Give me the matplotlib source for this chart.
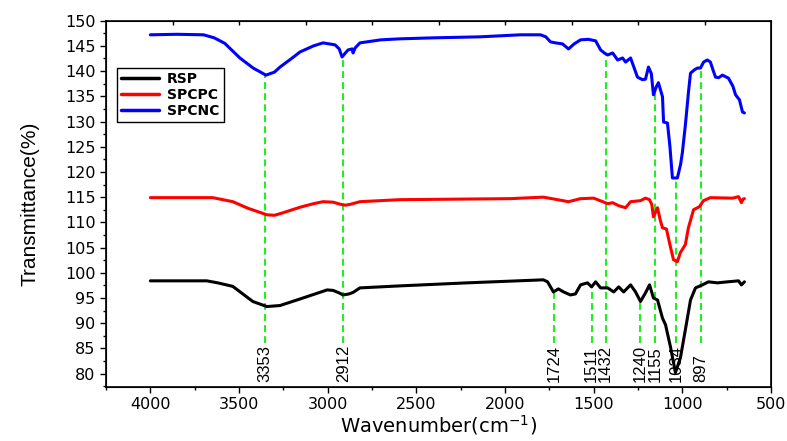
import numpy as np
import matplotlib
matplotlib.use("Agg")
import matplotlib.pyplot as plt
from matplotlib.ticker import MultipleLocator

# --- data ---
wn_spcnc = [4000, 3850, 3700, 3640, 3580, 3495, 3420, 3348, 3300, 3269, 3200, 3156, 3080,
            3026, 2958, 2935, 2919, 2900, 2885, 2862, 2857, 2845, 2818, 2700, 2592, 2400,
            2139, 1913, 1800, 1770, 1744, 1716, 1676, 1642, 1610, 1574, 1530, 1489, 1461,
            1440, 1421, 1393, 1365, 1337, 1320, 1292, 1253, 1225, 1208, 1191, 1175, 1163,
            1148, 1135, 1112, 1106, 1084, 1070, 1056, 1028, 1010, 1000, 983, 965, 954, 930,
            915, 898, 880, 859, 842, 825, 813, 795, 774, 740, 715, 700, 678, 661, 650]
t_spcnc = [147.2, 147.3, 147.2, 146.6, 145.5, 142.6, 140.6, 139.2, 139.8, 140.8, 142.6, 143.8,
           145.0, 145.6, 145.2, 144.4, 142.8, 143.6, 144.2, 144.4, 143.6, 144.6, 145.6, 146.2,
           146.4, 146.6, 146.8, 147.2, 147.2, 146.8, 145.8, 145.6, 145.4, 144.4, 145.4, 146.2,
           146.3, 146.0, 144.2, 143.6, 143.2, 143.6, 142.2, 142.6, 141.8, 142.6, 138.8, 138.3,
           138.4, 140.8, 139.5, 135.3, 136.8, 137.7, 134.9, 129.9, 129.7, 125.0, 118.8, 118.8,
           121.5, 123.8, 129.3, 136.0, 139.6, 140.3, 140.6, 140.6, 141.8, 142.2, 141.8, 140.0,
           138.8, 138.7, 139.2, 138.6, 137.0, 135.3, 134.3, 131.9, 131.7]

wn_spcpc = [4000, 3648, 3535, 3450, 3343, 3300, 3252, 3156, 3080, 3026, 2969, 2930, 2900,
            2870, 2818, 2592, 1971, 1784, 1720, 1642, 1574, 1500, 1449, 1421, 1393, 1359,
            1320, 1292, 1236, 1208, 1185, 1172, 1163, 1140, 1125, 1112, 1090, 1067, 1050,
            1028, 1011, 983, 966, 937, 904, 881, 842, 717, 683, 667, 658, 650]
t_spcpc = [114.9, 114.9, 114.1, 112.8, 111.5, 111.4, 111.9, 113.0, 113.7, 114.1, 114.0, 113.6,
           113.4, 113.6, 114.1, 114.5, 114.7, 115.0, 114.6, 114.1, 114.7, 114.8, 114.1, 113.7,
           113.9, 113.3, 112.9, 114.1, 114.3, 114.8, 114.5, 113.5, 111.1, 112.9, 110.5, 108.9,
           108.7, 105.1, 102.6, 102.2, 104.0, 105.6, 108.9, 112.5, 113.1, 114.3, 114.9, 114.8,
           115.1, 113.9, 114.6, 114.7]

wn_rsp = [4000, 3682, 3620, 3535, 3422, 3343, 3269, 3156, 3003, 2969, 2935, 2913, 2880, 2857,
          2818, 2592, 2214, 1784, 1760, 1727, 1699, 1670, 1631, 1603, 1574, 1535, 1512, 1489,
          1461, 1421, 1387, 1359, 1331, 1292, 1264, 1236, 1208, 1185, 1163, 1140, 1112, 1095,
          1067, 1039, 1011, 983, 954, 926, 887, 853, 802, 746, 683, 667, 650]
t_rsp = [98.4, 98.4, 98.0, 97.3, 94.3, 93.3, 93.5, 94.8, 96.6, 96.5, 96.0, 95.6, 95.8, 96.1,
         97.0, 97.4, 98.0, 98.6, 98.2, 96.2, 96.8, 96.2, 95.6, 95.8, 97.6, 98.0, 97.2, 98.2,
         97.0, 97.0, 96.2, 97.2, 96.2, 97.6, 96.2, 94.3, 96.0, 97.6, 95.0, 94.6, 91.0, 89.7,
         85.3, 80.2, 83.1, 88.7, 94.6, 97.0, 97.6, 98.2, 98.0, 98.2, 98.4, 97.6, 98.2]

# marked bands and which spectrum the guide line runs up to
peaks = [3353, 2912, 1724, 1511, 1432, 1240, 1155, 1034, 897]
peak_on = ["SPCNC", "SPCNC", "RSP", "RSP", "SPCNC", "RSP", "SPCNC", "SPCNC", "SPCNC"]

series = {
    "RSP": (wn_rsp, t_rsp, "black"),
    "SPCPC": (wn_spcpc, t_spcpc, "red"),
    "SPCNC": (wn_spcnc, t_spcnc, "blue"),
}

arial = ["Liberation Sans", "DejaVu Sans"]

fig = plt.figure(figsize=(7.87, 4.41), dpi=100)
ax = fig.add_axes([0.1347, 0.1231, 0.8450, 0.8300])

for name, (wn, t, col) in series.items():
    ax.plot(wn, t, color=col, lw=2.2, label=name, zorder=3, solid_capstyle="round")

label_y = 78.4
line_bottom = 86.0
for p, s in zip(peaks, peak_on):
    wn, t, _ = series[s]
    top = np.interp(p, wn[::-1], t[::-1])
    ax.plot([p, p], [line_bottom, top], color="#22ee22", lw=1.5, dashes=(3.3, 2), zorder=2)
    ax.text(p, label_y, str(p), rotation=90, ha="center", va="bottom",
            fontsize=12, family=arial, zorder=1)

ax.set_xlim(4250, 500)
ax.set_ylim(77.4, 150)
ax.xaxis.set_major_locator(MultipleLocator(500))
ax.xaxis.set_minor_locator(MultipleLocator(250))
ax.yaxis.set_major_locator(MultipleLocator(5))
ax.yaxis.set_minor_locator(MultipleLocator(2.5))
ax.tick_params(which="major", length=4, width=1, labelsize=11.5, direction="out")
ax.tick_params(which="minor", length=2.5, width=1, direction="out")
for sp in ax.spines.values():
    sp.set_linewidth(1.2)

# top axis has its own inward ticks every tenth of the width
top = ax.twiny()
top.set_xlim(0, 1)
top.set_xticks(np.arange(0.1, 0.95, 0.1))
top.tick_params(axis="x", direction="in", length=3, width=1, labeltop=False)

ax.set_xlabel("Wavenumber(cm$^{-1}$)", fontsize=14, labelpad=1)
ax.set_ylabel("Transmittance(%)", fontsize=15, family=arial, labelpad=18)

leg = ax.legend(loc="upper left", bbox_to_anchor=(0.0165, 0.871), borderaxespad=0,
                fancybox=False, edgecolor="black", framealpha=1,
                prop={"weight": "bold", "size": 10}, handlelength=2.7,
                handletextpad=0.6, labelspacing=0.15, borderpad=0.3)
leg.get_frame().set_linewidth(1)
for h in leg.legend_handles:
    h.set_linewidth(2.5)

fig.savefig("out.png", dpi=100)
